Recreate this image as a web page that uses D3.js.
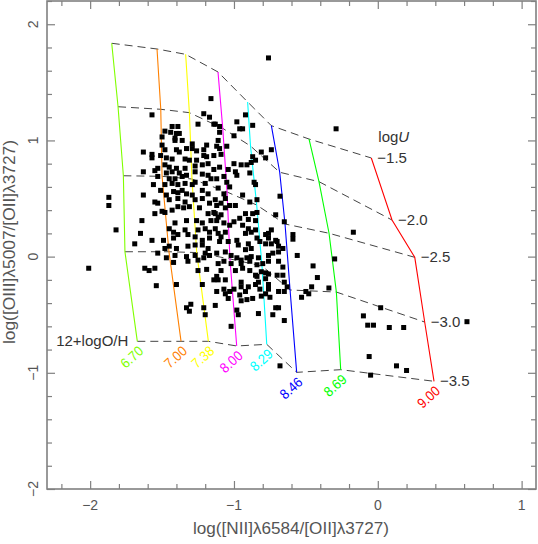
<!DOCTYPE html>
<html lang="en">
<head>
<meta charset="UTF-8">
<title>[OIII]/[OII] vs [NII]/[OII] grid</title>
<script src="https://d3js.org/d3.v7.min.js"></script>
<style>
  body { margin: 0; background: #fff; }
  text { font-family: "Liberation Sans", Arial, sans-serif; }
</style>
</head>
<body>
<script>
// model grid: one track per 12+log(O/H), one node per log U
var metallicity = ["6.70", "7.00", "7.38", "8.00", "8.29", "8.46", "8.69", "9.00"];
var logU = ["\u22121.5", "\u22122.0", "\u22122.5", "\u22123.0", "\u22123.5"];

// log([NII]/[OII]) of each node, rows = metallicity, cols = logU
var gridN2O2 = [
    [-1.850, -1.806, -1.769, -1.758, -1.672],
    [-1.535, -1.509, -1.500, -1.452, -1.368],
    [-1.336, -1.310, -1.292, -1.259, -1.178],
    [-1.111, -1.078, -1.048, -1.028, -0.981],
    [-0.905, -0.885, -0.842, -0.805, -0.772],
    [-0.740, -0.682, -0.645, -0.610, -0.564],
    [-0.478, -0.409, -0.339, -0.288, -0.258],
    [-0.045,  0.099,  0.257,  0.326,  0.391]
];
// log([OIII]/[OII]) of each node
var gridO3O2 = [
    [1.836, 1.290, 0.696,  0.042, -0.729],
    [1.787, 1.268, 0.691,  0.042, -0.729],
    [1.741, 1.239, 0.668,  0.035, -0.729],
    [1.589, 1.104, 0.556, -0.020, -0.769],
    [1.331, 0.952, 0.444, -0.081, -0.755],
    [1.127, 0.726, 0.281, -0.287, -0.996],
    [1.012, 0.645, 0.201, -0.305, -0.973],
    [0.849, 0.315, -0.006, -0.563, -1.073]
];

// observed galaxies [log NII/OII, log OIII/OII]
var observed = [
    [-1.16,1.36],[-1.57,1.22],[-1.21,1.23],[-1.17,1.20],[-1.25,1.14],[-1.14,1.14],[-1.43,1.12],[-1.39,1.12],
    [-1.48,1.08],[-1.44,1.07],[-1.40,1.06],[-1.38,1.06],[-1.50,1.03],[-1.41,1.02],[-1.41,1.00],[-1.29,0.97],
    [-1.19,0.96],[-1.50,0.96],[-1.63,0.90],[-1.48,0.92],[-1.40,0.92],[-1.38,0.90],[-1.33,0.93],[-1.26,0.91],
    [-1.57,0.88],[-1.51,0.87],[-1.47,0.85],[-1.43,0.84],[-1.57,0.85],[-1.34,0.84],[-1.31,0.83],[-1.26,0.83],
    [-1.21,0.87],[-1.18,0.80],[-1.14,0.87],[-1.53,0.76],[-1.48,0.79],[-1.45,0.77],[-1.40,0.76],[-1.34,0.76],
    [-1.27,0.78],[-1.22,0.79],
    [-0.76,1.71],[-0.92,1.22],[-0.98,1.16],[-0.87,1.13],[-0.96,1.10],[-0.94,1.10],[-1.13,1.14],[-1.00,1.04],
    [-1.11,1.00],[-1.12,0.95],[-1.10,0.93],[-1.05,0.95],[-1.09,0.88],[-0.81,0.90],[-0.74,0.92],[-0.78,0.85],
    [-0.88,0.81],[-0.95,0.79],[-1.10,0.77],[-0.29,1.10],
    [-1.63,0.73],[-1.55,0.74],[-1.53,0.69],[-1.56,0.62],[-1.47,0.72],[-1.43,0.73],[-1.38,0.72],[-1.45,0.67],
    [-1.41,0.67],[-1.36,0.69],[-1.33,0.70],[-1.27,0.73],[-1.22,0.71],[-1.18,0.70],[-1.16,0.67],[-1.48,0.62],
    [-1.43,0.63],[-1.39,0.62],[-1.34,0.63],[-1.29,0.62],[-1.27,0.64],[-1.20,0.63],[-1.51,0.57],[-1.47,0.53],
    [-1.42,0.56],[-1.39,0.55],[-1.36,0.57],[-1.33,0.54],[-1.29,0.53],[-1.22,0.57],[-1.18,0.54],[-1.63,0.53],
    [-1.87,0.51],[-1.87,0.44],[-1.55,0.47],[-1.53,0.46],[-1.45,0.49],[-1.39,0.50],[-1.34,0.47],[-1.27,0.49],
    [-1.22,0.50],[-1.17,0.46],[-1.55,0.37],[-1.50,0.39],[-1.48,0.38],[-1.43,0.40],[-1.39,0.43],[-1.35,0.42],
    [-1.31,0.43],[-1.24,0.42],[-1.18,0.37],[-1.14,0.38],[-1.64,0.31],[-1.41,0.29],[-1.33,0.31],[-1.26,0.31],
    [-1.22,0.29],[-1.16,0.31],[-1.82,0.23],[-1.45,0.24],[-1.42,0.21],[-1.34,0.23],[-1.25,0.23],[-1.20,0.24],
    [-1.17,0.21],[-1.65,0.20],[-1.42,0.16],[-1.39,0.19],[-1.32,0.19],[-1.27,0.17],[-1.22,0.14],[-1.17,0.16],
    [-1.69,0.11],[-1.57,0.14],[-1.49,0.14],[-1.48,0.07],[-1.45,0.09],[-1.40,0.07],[-1.32,0.09],[-1.27,0.10],
    [-1.22,0.10],[-1.18,0.07],[-1.53,0.03],[-1.47,-0.01],[-1.41,0.01],[-1.33,0.00],[-1.27,0.01],[-1.20,0.03],
    [-1.17,0.01],[-1.42,-0.05],[-1.32,-0.04],[-1.25,-0.03],[-1.21,-0.01],[-1.62,-0.10],[-1.59,-0.12],[-1.55,-0.10],
    [-1.25,-0.12],[-1.19,-0.11],[-1.54,-0.25],[-1.40,-0.24],[-1.22,-0.24],[-1.14,-0.20],[-2.01,-0.10],
    [-1.12,0.67],[-1.03,0.60],[-0.86,0.64],[-0.85,0.62],[-1.11,0.59],[-1.07,0.54],[-1.06,0.50],[-0.94,0.53],
    [-0.89,0.47],[-0.84,0.49],[-0.99,0.44],[-0.68,0.52],[-1.13,0.49],[-1.12,0.44],[-1.09,0.46],[-1.06,0.42],
    [-1.03,0.44],[-0.92,0.37],[-0.87,0.37],[-0.84,0.38],[-0.96,0.33],[-0.90,0.32],[-0.85,0.31],[-0.71,0.36],
    [-1.13,0.37],[-1.11,0.34],[-1.09,0.36],[-1.12,0.31],[-1.07,0.29],[-1.03,0.27],[-1.00,0.30],[-0.94,0.27],
    [-0.90,0.24],[-0.88,0.21],[-0.92,0.20],[-0.85,0.23],[-0.65,0.30],[-0.78,0.19],[-0.76,0.20],[-0.59,0.19],
    [-0.59,0.15],[-1.13,0.24],[-1.11,0.20],[-1.09,0.17],[-1.06,0.21],[-1.10,0.13],[-1.04,0.13],[-0.98,0.14],
    [-0.97,0.10],[-0.84,0.16],[-0.82,0.13],[-0.78,0.11],[-0.71,0.14],[-0.70,0.13],[-0.66,0.07],[-0.90,0.11],
    [-0.88,0.07],[-0.92,0.06],[-1.12,0.03],[-1.06,0.04],[-1.02,0.01],[-0.98,-0.01],[-0.95,-0.03],[-0.91,-0.01],
    [-0.88,0.00],[-0.83,-0.01],[-0.76,0.01],[-0.73,0.03],[-0.69,0.04],[-0.56,0.01],[-1.11,-0.06],[-1.07,-0.04],
    [-1.02,-0.06],[-0.95,-0.06],[-0.89,-0.04],[-0.84,-0.07],[-0.80,-0.06],[-0.76,-0.04],[-0.69,-0.04],[-0.66,-0.09],
    [-0.45,-0.08],[-1.09,-0.12],[-0.99,-0.12],[-0.94,-0.10],[-0.89,-0.12],[-0.81,-0.13],[-0.78,-0.14],[-0.70,-0.16],
    [-1.12,-0.17],[-1.06,-0.20],[-0.95,-0.22],[-0.84,-0.17],[-0.78,-0.19],[-0.66,-0.16],[-0.65,-0.22],[-0.46,-0.26],
    [-0.42,-0.18],[-0.90,-0.26],[-0.85,-0.24],[-0.76,-0.24],[-0.63,-0.26],
    [-1.12,-0.30],[-1.06,-0.32],[-1.03,-0.30],[-1.04,-0.36],[-0.96,-0.33],[-0.92,-0.30],[-0.91,-0.37],[-0.87,-0.36],
    [-0.81,-0.34],[-0.75,-0.35],[-0.69,-0.30],[-0.65,-0.30],[-0.53,-0.35],[-0.48,-0.32],[-1.13,-0.42],[-0.98,-0.46],
    [-0.97,-0.50],[-0.83,-0.49],[-0.71,-0.44],[-0.69,-0.44],[-0.73,-0.50],[-0.65,-0.55],[-1.02,-0.60],[-0.68,-0.94],
    [-1.33,-0.44],[-1.30,-0.41],[-1.31,-0.47],[-1.21,-0.44],[-1.20,-0.50],[-1.11,-0.20],[-1.07,-0.28],[-1.00,-0.28],
    [-0.95,-0.26],[-0.85,-0.16],[-0.83,-0.22],[-0.82,-0.28],[-0.78,-0.32],[-0.95,-0.38],
    [-0.76,-0.15],[-0.76,-0.28],[-0.50,-0.30],[-0.34,-0.27],[-0.10,-0.51],[0.02,-0.44],[-0.07,-0.59],[-0.03,-0.59],
    [0.08,-0.61],[0.18,-0.61],[-0.06,-0.86],[0.13,-0.94],[0.20,-0.98],[-0.05,-1.02],[0.62,-0.56],
    [-0.30,-0.02],[-0.17,0.21],[-0.74,0.23],[-0.76,0.16],[-0.74,0.11],[-0.69,0.09],
    [-1.36,1.00],[-1.10,1.12],[-1.10,1.07],[-1.29,0.93],[-1.21,0.92],[-0.87,0.86],[-0.85,0.83],[-1.00,0.80],
    [-0.91,0.79],[-0.99,0.73],[-0.98,0.70],[-0.89,0.72],[-1.19,0.86],[-1.14,0.75],[-1.07,0.69],[-1.04,0.75],
    [-1.05,0.64]
];

var xTicks = [-2, -1, 0, 1];
var yTicks = [-2, -1, 0, 1, 2];

var trackColors = ["#80ff00", "#ff8000", "#ffff00", "#ff00ff", "#00ffff", "#0000ff", "#00ff00", "#ff0000"];

var width = 538, height = 544;
var margin = { left: 47, top: 1, right: 2, bottom: 55 };
var pw = width - margin.left - margin.right;
var ph = height - margin.top - margin.bottom;

var svg = d3.select("body").append("svg")
    .attr("width", width)
    .attr("height", height);

var x = d3.scaleLinear().domain([-2.3, 1.1]).range([margin.left, margin.left + pw]);
var y = d3.scaleLinear().domain([-2, 2.2]).range([margin.top + ph, margin.top]);

var axisCol = "#808080";
var textCol = "#555";

// minor ticks every 0.2
function minor(s) {
    return s.ticks(20).filter(function (t) { return Math.abs(t - Math.round(t)) > 1e-6; });
}

function drawAxis(gen, tr, scale, majors, len) {
    var g = svg.append("g").attr("transform", tr);
    g.call(gen(scale).tickValues(majors).tickSize(-8).tickSizeOuter(0).tickFormat(""));
    g.append("g").call(gen(scale).tickValues(minor(scale)).tickSize(-5).tickSizeOuter(0).tickFormat(""));
    g.selectAll(".domain").remove();
    g.selectAll("line").attr("stroke", axisCol).attr("stroke-width", 1.2);
    return g;
}

drawAxis(d3.axisBottom, "translate(0," + (margin.top + ph) + ")", x, xTicks);
drawAxis(d3.axisTop, "translate(0," + margin.top + ")", x, xTicks);
drawAxis(d3.axisLeft, "translate(" + margin.left + ",0)", y, yTicks);
drawAxis(d3.axisRight, "translate(" + (margin.left + pw) + ",0)", y, yTicks);

svg.append("rect")
    .attr("x", margin.left).attr("y", margin.top)
    .attr("width", pw).attr("height", ph)
    .attr("fill", "none").attr("stroke", axisCol).attr("stroke-width", 1.6);

var fmt = d3.format("d");

svg.append("g").selectAll("text")
    .data(xTicks).enter().append("text")
    .attr("x", function (d) { return x(d); })
    .attr("y", margin.top + ph + 21)
    .attr("text-anchor", "middle")
    .attr("font-size", 14)
    .attr("fill", textCol)
    .text(function (d) { return fmt(d); });

svg.append("g").selectAll("text")
    .data(yTicks).enter().append("text")
    .attr("transform", function (d) { return "translate(38," + y(d) + ") rotate(-90)"; })
    .attr("text-anchor", "middle")
    .attr("font-size", 14)
    .attr("fill", textCol)
    .text(function (d) { return fmt(d); });

// axis titles
svg.append("text")
    .attr("x", 291).attr("y", 534)
    .attr("text-anchor", "middle")
    .attr("font-size", 16)
    .attr("fill", textCol)
    .attr("textLength", 196).attr("lengthAdjust", "spacingAndGlyphs")
    .text("log([NII]\u03bb6584/[OII]\u03bb3727)");

svg.append("text")
    .attr("transform", "translate(15,242) rotate(-90)")
    .attr("text-anchor", "middle")
    .attr("font-size", 16)
    .attr("fill", textCol)
    .attr("textLength", 204).attr("lengthAdjust", "spacingAndGlyphs")
    .text("log([OIII]\u03bb5007/[OII]\u03bb3727)");

// grid lines
var line = d3.line()
    .x(function (d) { return x(d[0]); })
    .y(function (d) { return y(d[1]); });

var gridG = svg.append("g").attr("fill", "none");

logU.forEach(function (u, j) {
    var pts = metallicity.map(function (m, i) { return [gridN2O2[i][j], gridO3O2[i][j]]; });
    gridG.append("path")
        .attr("d", line(pts))
        .attr("stroke", "#444")
        .attr("stroke-width", 1)
        .attr("stroke-dasharray", "8,5");
});

metallicity.forEach(function (m, i) {
    var pts = logU.map(function (u, j) { return [gridN2O2[i][j], gridO3O2[i][j]]; });
    gridG.append("path")
        .attr("d", line(pts))
        .attr("stroke", trackColors[i])
        .attr("stroke-width", 1.1);
});

// observed points
svg.append("g").selectAll("rect")
    .data(observed).enter().append("rect")
    .attr("x", function (d) { return x(d[0]) - 2.5; })
    .attr("y", function (d) { return y(d[1]) - 2.5; })
    .attr("width", 5).attr("height", 5)
    .attr("fill", "#000");

// labels: logU values at the 9.00 track
var last = metallicity.length - 1;
logU.forEach(function (u, j) {
    svg.append("text")
        .attr("x", x(gridN2O2[last][j]) + 6)
        .attr("y", y(gridO3O2[last][j]) + 5)
        .attr("font-size", 15)
        .attr("fill", "#333")
        .text(u);
});

var uLab = svg.append("text")
    .attr("x", x(gridN2O2[last][0]) + 7)
    .attr("y", y(gridO3O2[last][0]) - 16)
    .attr("font-size", 15)
    .attr("fill", "#333");
uLab.append("tspan").text("log");
uLab.append("tspan").attr("font-style", "italic").text("U");

// metallicity labels under the lowest logU node
var lowJ = logU.length - 1;
metallicity.forEach(function (m, i) {
    var px = x(gridN2O2[i][lowJ]) + 7;
    var py = y(gridO3O2[i][lowJ]) + 11;
    svg.append("text")
        .attr("transform", "translate(" + px + "," + py + ") rotate(-42)")
        .attr("text-anchor", "end")
        .attr("font-size", 14)
        .attr("textLength", 25).attr("lengthAdjust", "spacingAndGlyphs")
        .attr("fill", trackColors[i])
        .text(m);
});

svg.append("text")
    .attr("x", x(gridN2O2[0][lowJ]) - 9)
    .attr("y", y(gridO3O2[0][lowJ]) + 5)
    .attr("text-anchor", "end")
    .attr("font-size", 15)
    .attr("fill", "#333")
    .text("12+logO/H");
</script>
</body>
</html>
